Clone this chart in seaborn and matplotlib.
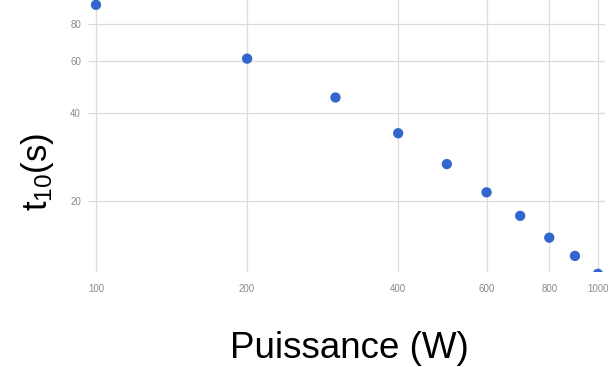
import matplotlib
matplotlib.use("Agg")
import matplotlib.pyplot as plt
import seaborn as sns
import pandas as pd
from matplotlib.ticker import NullLocator, FixedLocator, FixedFormatter

power_w = [100, 200, 300, 400, 500, 600, 700, 800, 900, 1000]
t10_s = [93, 61, 45, 34, 26.7, 21.4, 17.8, 15.0, 13.0, 11.3]
x_ticks = [100, 200, 400, 600, 800, 1000]
y_ticks = [20, 40, 60, 80]

sns.set_style("white")
plt.rcParams['font.family'] = ['Liberation Sans', 'DejaVu Sans']
plt.rcParams['mathtext.fontset'] = 'custom'
plt.rcParams['mathtext.rm'] = 'Liberation Sans'
plt.rcParams['mathtext.it'] = 'Liberation Sans'

df = pd.DataFrame({"P": power_w, "t": t10_s})

fig = plt.figure(figsize=(6.16, 3.67), dpi=100)
ax = fig.add_axes([88/616, 1 - 272/367, (605 - 88)/616, 272/367])

ax.set_xscale("log")
ax.set_yscale("log")
sns.scatterplot(data=df, x="P", y="t", ax=ax, color="#3366CC", s=55,
                edgecolor="none", zorder=3, clip_on=True)

ax.set_xlim(96.4, 1033)
ax.set_ylim(11.46, 96.6)

ax.xaxis.set_major_locator(FixedLocator(x_ticks))
ax.xaxis.set_major_formatter(FixedFormatter([str(v) for v in x_ticks]))
ax.xaxis.set_minor_locator(NullLocator())
ax.yaxis.set_major_locator(FixedLocator(y_ticks))
ax.yaxis.set_major_formatter(FixedFormatter([str(v) for v in y_ticks]))
ax.yaxis.set_minor_locator(NullLocator())

ax.grid(True, which="major", color="#dcdcdc", linewidth=0.9)
for sp in ax.spines.values():
    sp.set_visible(False)
ax.tick_params(axis="both", length=0, labelsize=7, labelcolor="#8a8a8a")
ax.tick_params(axis="x", pad=9)
ax.tick_params(axis="y", pad=5)
ax.set_xlabel("")
ax.set_ylabel("")

fig.text(349/616, 1 - 348/367, "Puissance (W)", fontsize=26.5,
         ha="center", va="center", color="black")
fig.text(37/616, 1 - 172/367, "t$_{10}$(s)", fontsize=25, rotation=90,
         ha="center", va="center", color="black")

fig.savefig("out.png", dpi=100)
